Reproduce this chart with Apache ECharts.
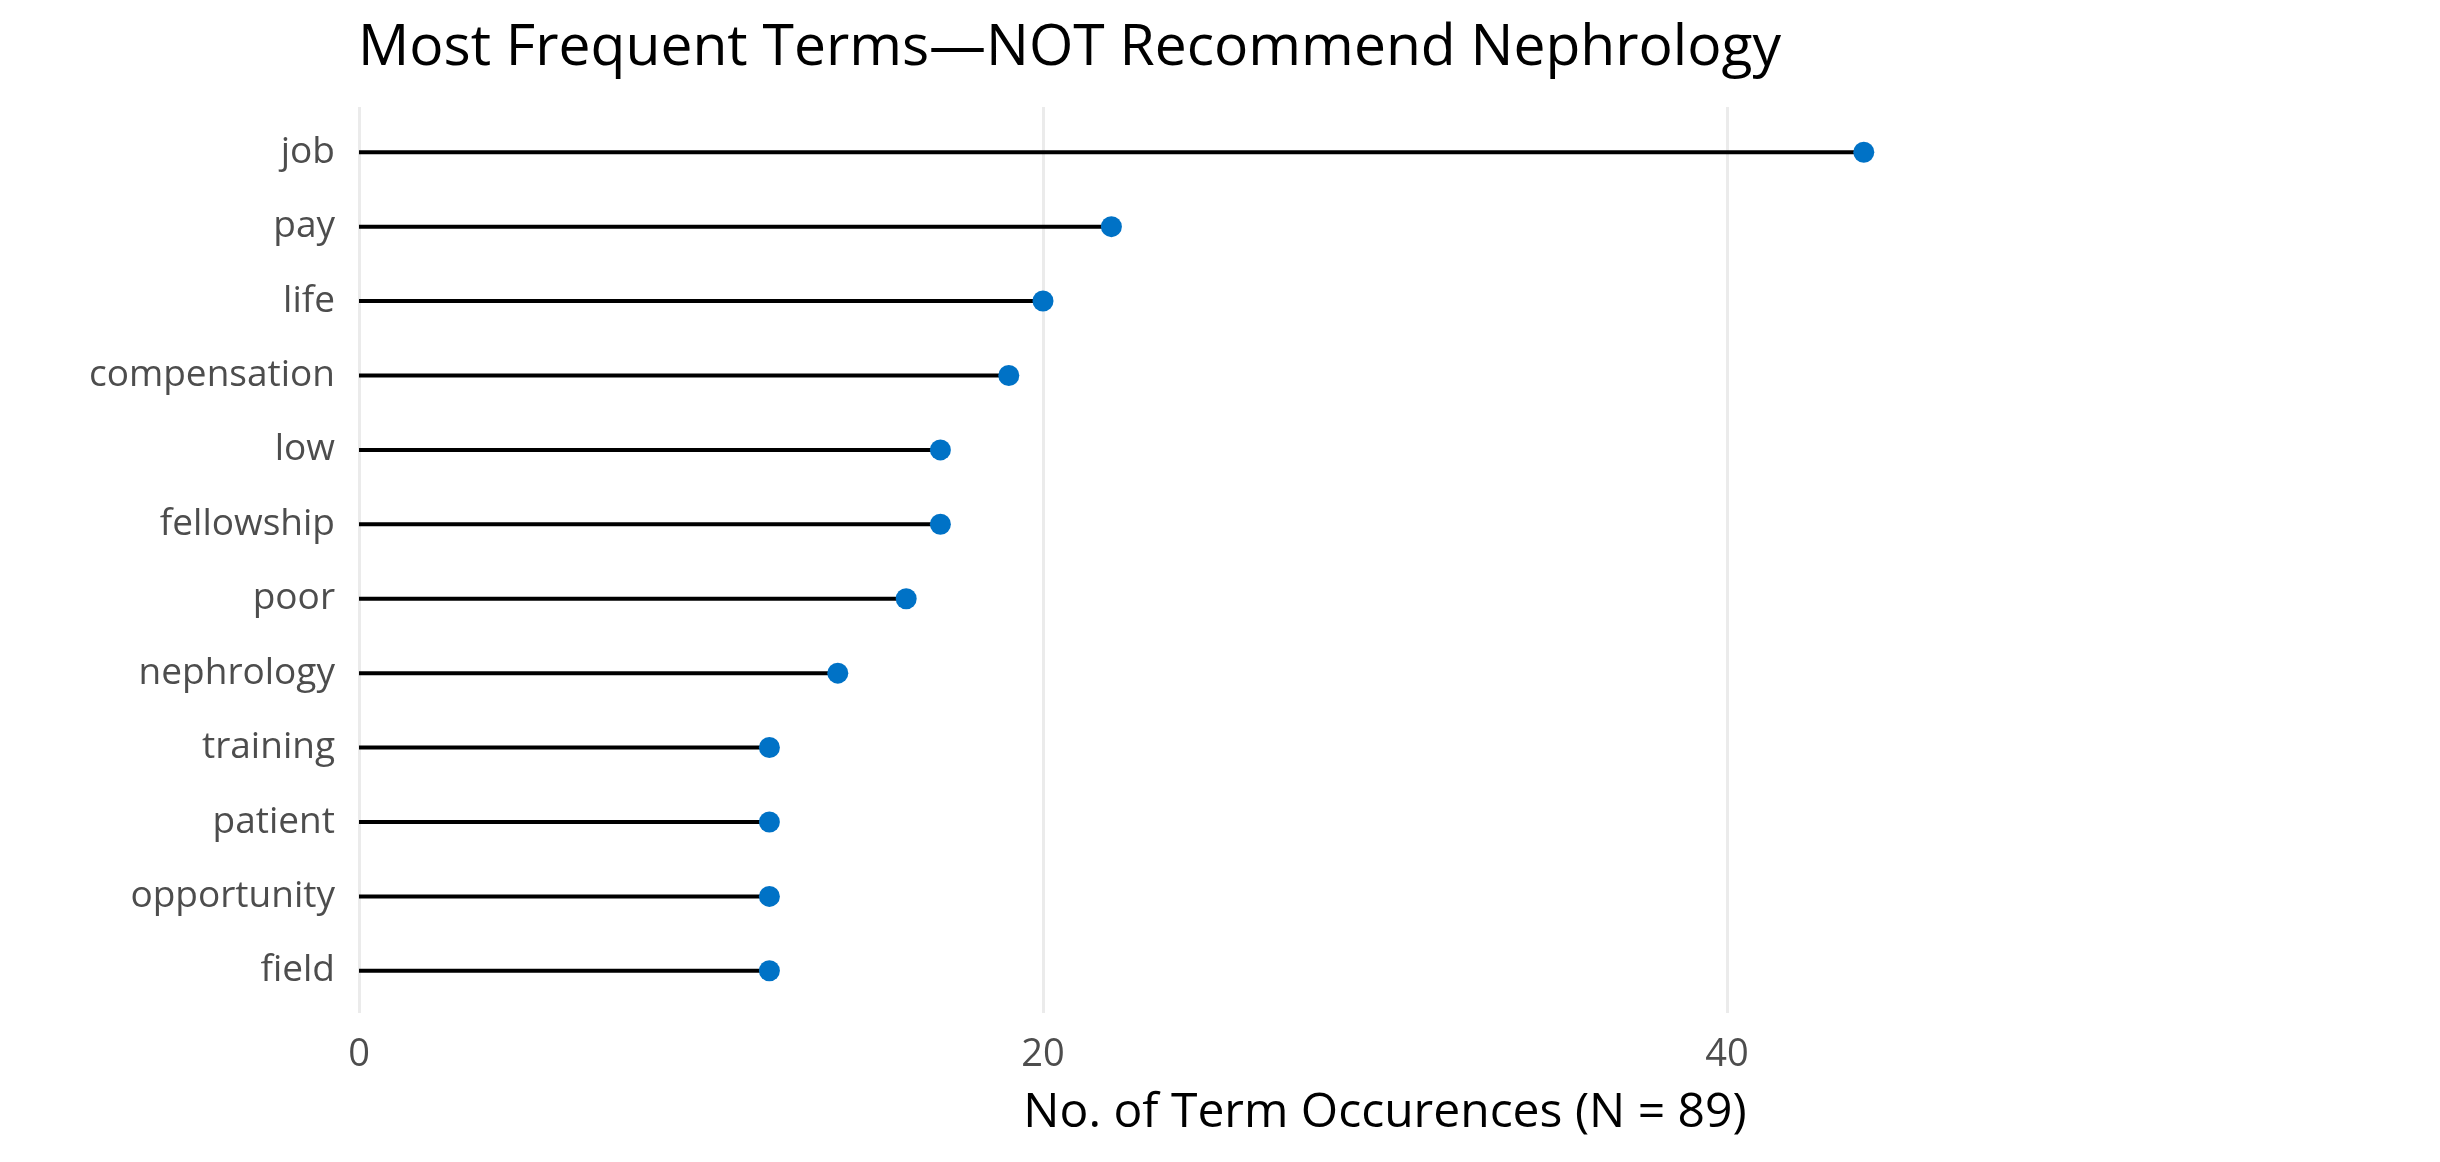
<!DOCTYPE html>
<html>
<head>
<meta charset="utf-8">
<style>
  html, body { margin: 0; padding: 0; background: #ffffff; }
  #chart { width: 2440px; height: 1162px; }
</style>
<script src="https://cdn.jsdelivr.net/npm/echarts@6/dist/echarts.min.js"></script>
</head>
<body>
<div id="chart"></div>
<script>
const terms = ['job', 'pay', 'life', 'compensation', 'low', 'fellowship', 'poor', 'nephrology', 'training', 'patient', 'opportunity', 'field'];
const counts = [44, 22, 20, 19, 17, 17, 16, 14, 12, 12, 12, 12];
const xTickValues = [0, 20, 40];
const titleText = 'Most Frequent Terms\u2014NOT Recommend Nephrology';
const xAxisTitle = 'No. of Term Occurences (N = 89)';

const FONT = '"Open Sans", "Noto Sans", sans-serif';
const chart = echarts.init(document.getElementById('chart'), null, { renderer: 'canvas' });

chart.setOption({
  backgroundColor: '#ffffff',
  animation: false,
  title: {
    text: titleText,
    left: 353,
    top: 15,
    textStyle: { fontFamily: FONT, fontSize: 57, fontWeight: 'normal', color: '#000000' }
  },
  grid: [
    { left: 359, right: 29, top: 115, height: 893, containLabel: false },
    { left: 359, width: 1368, top: 107, height: 906, containLabel: false }
  ],
  xAxis: [
    {
      gridIndex: 0, type: 'value', min: 0, max: 60,
      axisLine: { show: false }, axisTick: { show: false },
      axisLabel: { show: false }, splitLine: { show: false },
      name: xAxisTitle, nameLocation: 'middle', nameGap: 81,
      nameTextStyle: { fontFamily: FONT, fontSize: 48, color: '#000000' }
    },
    {
      gridIndex: 1, type: 'value', min: xTickValues[0], max: xTickValues[xTickValues.length - 1], interval: 20,
      axisLine: { show: false }, axisTick: { show: false },
      axisLabel: { show: true, margin: 23, fontFamily: FONT, fontSize: 38, color: '#4d4d4d' },
      splitLine: { show: true, lineStyle: { color: '#ebebeb', width: 3 } }
    }
  ],
  yAxis: [
    {
      gridIndex: 0, type: 'category', data: terms, inverse: true,
      axisLine: { show: false }, axisTick: { show: false },
      axisLabel: { margin: 24, fontFamily: FONT, fontSize: 37, color: '#4d4d4d', padding: [4, 0, 0, 0] },
      splitLine: { show: false }
    },
    {
      gridIndex: 1, type: 'category', data: terms, inverse: true, show: false
    }
  ],
  series: [
    {
      type: 'bar', xAxisIndex: 0, yAxisIndex: 0,
      data: counts, barWidth: 4,
      itemStyle: { color: '#000000' },
      silent: true
    },
    {
      type: 'scatter', xAxisIndex: 0, yAxisIndex: 0,
      data: counts, symbol: 'circle', symbolSize: 21,
      itemStyle: { color: '#0072C6', opacity: 1 },
      silent: true, z: 5
    }
  ]
});
</script>
</body>
</html>
